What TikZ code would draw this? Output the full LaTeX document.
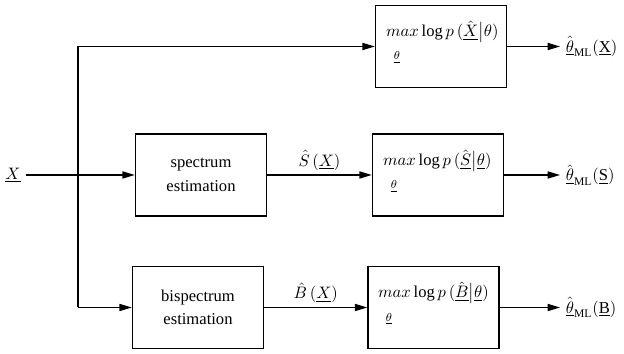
\documentclass[tikz,border=0pt]{standalone}
\usepackage{fontspec}
\setmainfont{Liberation Serif}
\usepackage{tikz}
\usetikzlibrary{arrows.meta}
\tikzset{
	blockbox/.style={draw, line width=0.8pt, inner sep=0pt, minimum width=2.78cm, minimum height=1.74cm, align=center},
	formula/.style={inner sep=0.5pt, anchor=base west},
	argsub/.style={inner sep=0.5pt, anchor=base},
	sigline/.style={line width=0.8pt},
	sigarrow/.style={line width=0.8pt, -{Triangle[length=2.6mm,width=1.5mm]}}
}
\def\mlhat#1{\hat{\underline{\theta}}_{\mathrm{ML}}(\underline{\mathrm{#1}})}

\begin{document}
\begin{tikzpicture}[x=0.0212cm, y=-0.0212cm]
		%%%%% START %%%%%
		\useasboundingbox (0, 0) rectangle (624, 354);
		
		\node (x) at (13, 175) {$\underline{X}$};
		\coordinate (split) at (78, 175);
		\coordinate (splittop) at (78, 46.5);
		\coordinate (splitbot) at (78, 307.5);
		
		\node[blockbox] (mlx) at (441, 46.5) {};
		\node[blockbox] (spec) at (201, 175) {spectrum\\[2pt]estimation};
		\node[blockbox] (mls) at (438, 175) {};
		\node[blockbox] (bispec) at (198, 307.5) {bispectrum\\[2pt]estimation};
		\node[blockbox] (mlb) at (433.5, 307.5) {};
		
		\node[formula] (mlxtxt) at (385, 37) {$max\log p\,(\hat{\underline{X}}\big|\theta)$};
		\node[argsub] (mlxsub) at (397, 60) {$\scriptstyle\underline{\theta}$};
		\node[formula] (mlstxt) at (382, 166) {$max\log p\,(\hat{\underline{S}}\big|\underline{\theta})$};
		\node[argsub] (mlssub) at (394, 189) {$\scriptstyle\underline{\theta}$};
		\node[formula] (mlbtxt) at (377, 298) {$max\log p\,(\hat{\underline{B}}\big|\underline{\theta})$};
		\node[argsub] (mlbsub) at (389, 321) {$\scriptstyle\underline{\theta}$};
		
		\node[anchor=west] (thx) at (560, 46.5) {$\mlhat{X}$};
		\node[anchor=west] (ths) at (560, 175) {$\mlhat{S}$};
		\node[anchor=west] (thb) at (560, 307.5) {$\mlhat{B}$};
		
		\draw[sigarrow] (x) -- (spec);
		\draw[sigline] (splittop) -- (splitbot);
		\draw[sigarrow] (splittop) -- (mlx);
		\draw[sigarrow] (splitbot) -- (bispec);
		
		\draw[sigarrow] (spec) -- node[above=2pt, inner sep=0.5pt] (shat) {$\hat{S}\,(\underline{X})$} (mls);
		\draw[sigarrow] (bispec) -- node[above=2pt, inner sep=0.5pt] (bhat) {$\hat{B}\,(\underline{X})$} (mlb);
		
		\draw[sigarrow] (mlx) -- (thx);
		\draw[sigarrow] (mls) -- (ths);
		\draw[sigarrow] (mlb) -- (thb);
		%%%%% END %%%%%
\end{tikzpicture}
\end{document}
